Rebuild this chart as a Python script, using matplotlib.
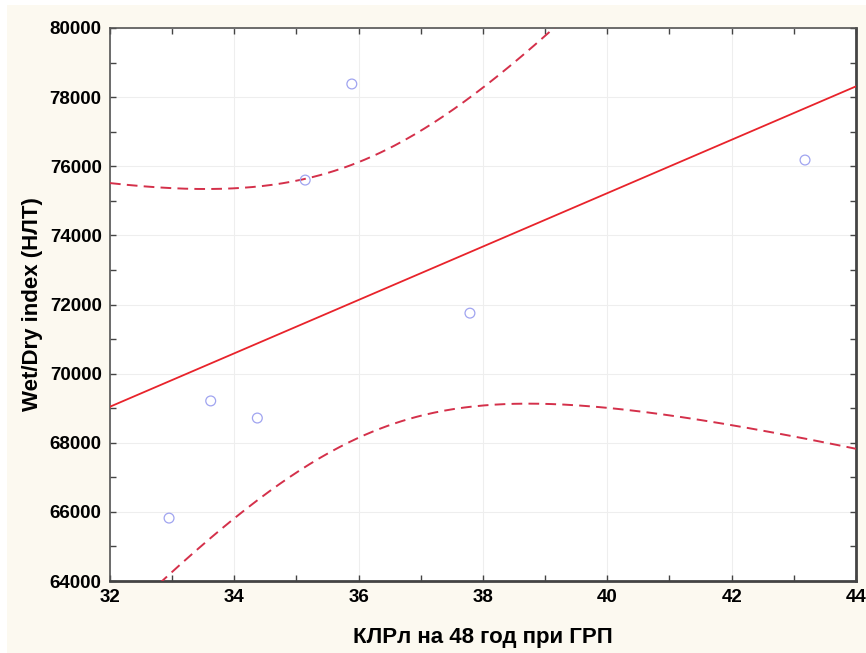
import numpy as np
import matplotlib.pyplot as plt
from matplotlib.patches import Rectangle
from matplotlib.ticker import MultipleLocator

# Data
x_vals = [32.95, 33.62, 34.37, 35.14, 35.89, 37.79, 43.18]
y_vals = [65820, 69210, 68715, 75600, 78380, 71750, 76180]
t_crit = 2.5706  # t(0.975, df=5)

x_label = "КЛРл на 48 год при ГРП"
y_label = "Wet/Dry index (НЛТ)"

plt.rcParams['font.family'] = ['Liberation Sans', 'DejaVu Sans']

# Linear fit and 95% confidence band
x = np.array(x_vals)
y = np.array(y_vals)
n = len(x)
slope, intercept = np.polyfit(x, y, 1)
resid = y - (slope * x + intercept)
s = np.sqrt(np.sum(resid ** 2) / (n - 2))
sxx = np.sum((x - x.mean()) ** 2)
xs = np.linspace(32, 44, 300)
fit = slope * xs + intercept
half = t_crit * s * np.sqrt(1 / n + (xs - x.mean()) ** 2 / sxx)

fig = plt.figure(figsize=(8.66, 6.53), dpi=100, facecolor="white")
fig.patches.append(Rectangle((7 / 866, 0), 1, 648 / 653, transform=fig.transFigure,
                             facecolor="#fcf9f0", edgecolor="none", zorder=-10))
ax = fig.add_axes([110 / 866, 72 / 653, 746 / 866, 553 / 653])
ax.set_facecolor("white")

ax.grid(True, color="#eeeeee", linewidth=0.8, zorder=0)
ax.plot(xs, fit, color="#e8232b", linewidth=1.3, zorder=3)
ax.plot(xs, fit + half, color="#d4304a", linewidth=1.4, linestyle=(0, (5.5, 3.2)), zorder=3)
ax.plot(xs, fit - half, color="#d4304a", linewidth=1.4, linestyle=(0, (5.5, 3.2)), zorder=3)
ax.scatter(x, y, s=50, facecolors="none", edgecolors="#a0a4f0", linewidths=0.9, zorder=4)

ax.set_xlim(32, 44)
ax.set_ylim(64000, 80000)
ax.xaxis.set_major_locator(MultipleLocator(2))
ax.xaxis.set_minor_locator(MultipleLocator(1))
ax.yaxis.set_major_locator(MultipleLocator(2000))
ax.yaxis.set_minor_locator(MultipleLocator(1000))
ax.tick_params(which="both", direction="in", top=True, right=True, length=4,
               width=1, color="#444444", labelsize=13.5, pad=6)
for lab in ax.get_xticklabels() + ax.get_yticklabels():
    lab.set_fontweight("bold")

for side in ["left", "top"]:
    ax.spines[side].set_color("#555555")
    ax.spines[side].set_linewidth(1.2)
for side in ["right", "bottom"]:
    ax.spines[side].set_color("#444444")
    ax.spines[side].set_linewidth(2)

ax.set_xlabel(x_label, fontsize=16, fontweight="bold", labelpad=15)
ax.set_ylabel(y_label, fontsize=16, fontweight="bold", labelpad=5)

fig.savefig("out.png", dpi=100, facecolor=fig.get_facecolor())
